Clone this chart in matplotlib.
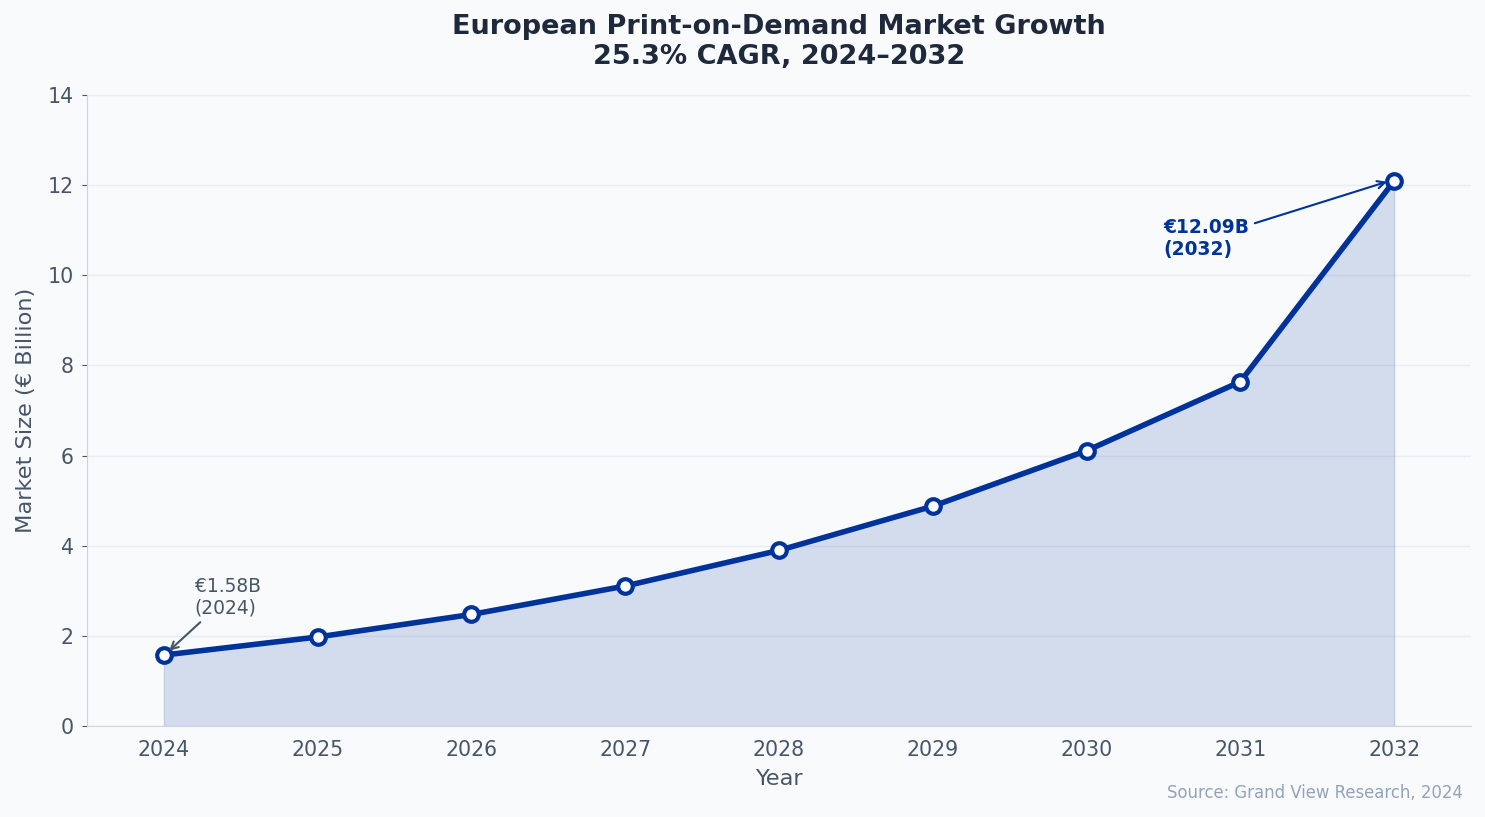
import matplotlib.pyplot as plt
import numpy as np

years = [2024, 2025, 2026, 2027, 2028, 2029, 2030, 2031, 2032]
market_size = [1.58, 1.98, 2.48, 3.11, 3.90, 4.88, 6.11, 7.64, 12.09]

navy = '#003399'
bg = '#f8fafc'
text_col = '#475569'

fig, ax = plt.subplots(figsize=(14.85, 8.17), dpi=100)
fig.patch.set_facecolor(bg)
ax.set_facecolor(bg)

ax.fill_between(years, market_size, 0, color=navy, alpha=0.15, zorder=1)
ax.plot(years, market_size, color=navy, linewidth=4, marker='o', markersize=10.5,
        markerfacecolor='white', markeredgecolor=navy, markeredgewidth=3, zorder=3)

ax.set_xlim(2023.5, 2032.5)
ax.set_ylim(0, 14)
ax.set_xticks(years)
ax.set_yticks(np.arange(0, 15, 2))
ax.grid(axis='y', color='#e2e8f0', linewidth=1, alpha=0.7)
ax.set_axisbelow(True)

for s in ['top', 'right']:
    ax.spines[s].set_visible(False)
for s in ['left', 'bottom']:
    ax.spines[s].set_color('#cbd5e1')
ax.tick_params(axis='both', colors=text_col, labelsize=14.8)
ax.tick_params(axis='x', length=0, pad=10)
ax.tick_params(axis='y', pad=6)

ax.set_xlabel('Year', fontsize=16.2, color=text_col, labelpad=6)
ax.set_ylabel('Market Size (€ Billion)', fontsize=16.2, color=text_col, labelpad=8)
ax.set_title('European Print-on-Demand Market Growth\n25.3% CAGR, 2024–2032',
             fontsize=19.5, fontweight='bold', color='#1e293b', pad=22, linespacing=1.22)

ax.annotate('€1.58B\n(2024)', xy=(years[0] + 0.02, market_size[0] + 0.05),
            xytext=(2024.2, 2.5), fontsize=13.4, color=text_col,
            arrowprops=dict(arrowstyle='->', color=text_col, lw=1.5))
ax.annotate('€12.09B\n(2032)', xy=(years[-1] - 0.03, market_size[-1]),
            xytext=(2030.5, 10.45), fontsize=13.4, color=navy, fontweight='bold',
            arrowprops=dict(arrowstyle='->', color=navy, lw=1.5))

fig.text(0.985, 0.018, 'Source: Grand View Research, 2024', ha='right', va='bottom',
         fontsize=11.9, color='#94a3b8')

fig.subplots_adjust(left=0.0586, right=0.9906, top=0.884, bottom=0.111)
fig.savefig('out.png', dpi=100, facecolor=bg)
